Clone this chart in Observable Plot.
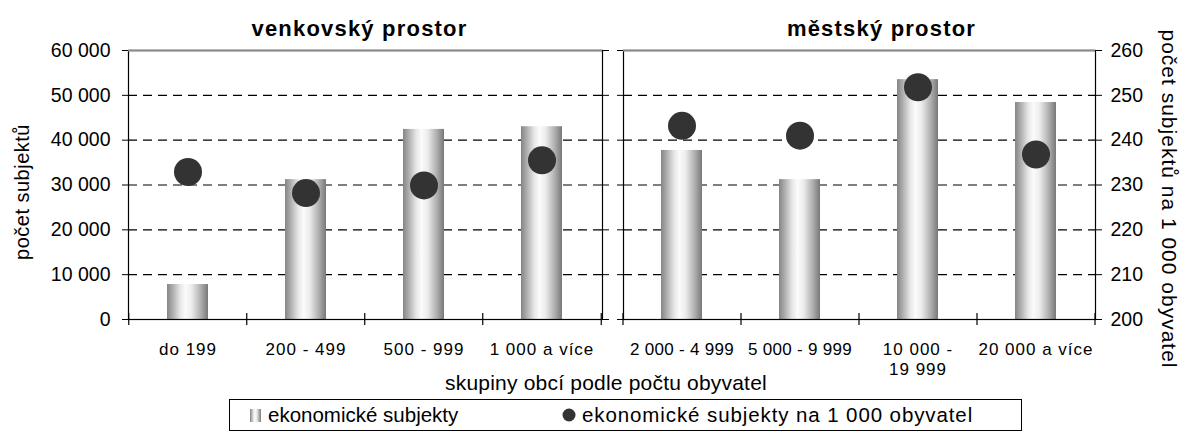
<!DOCTYPE html>
<html>
<head>
<meta charset="utf-8">
<script src="https://cdn.jsdelivr.net/npm/d3@7"></script>
<script src="https://cdn.jsdelivr.net/npm/@observablehq/plot@0.6"></script>
<style>
  body { margin: 0; background: #fff; font-family: "Liberation Sans", Arial, sans-serif; }
  #root { position: relative; width: 1181px; height: 432px; overflow: hidden; background: #fff; }
  #root > svg { position: absolute; top: 0; }
  #xtitle { position: absolute; left: 0; width: 1212px; top: 371px; text-align: center; font-size: 21px; letter-spacing: 0.2px; color: #000; white-space: nowrap; }
  #legend { position: absolute; left: 229px; top: 399px; width: 793px; height: 32px; border: 1px solid #000; box-sizing: border-box; font-size: 20.5px; color: #000; }
  .li { position: absolute; top: 3px; white-space: nowrap; display: flex; align-items: center; }
  .li svg { margin-right: 5px; }
</style>
</head>
<body>
<svg width="0" height="0" style="position:absolute">
  <defs>
    <linearGradient id="cyl" x1="0" x2="1" y1="0" y2="0">
      <stop offset="0" stop-color="#858585"/>
      <stop offset="0.12" stop-color="#a8a8a8"/>
      <stop offset="0.32" stop-color="#e6e6e6"/>
      <stop offset="0.45" stop-color="#fbfbfb"/>
      <stop offset="0.6" stop-color="#ececec"/>
      <stop offset="0.82" stop-color="#b0b0b0"/>
      <stop offset="1" stop-color="#787878"/>
    </linearGradient>
  </defs>
</svg>
<div id="root"></div>
<script>
// ---- data ----
const ruralTitle = "venkovský prostor";
const urbanTitle = "městský prostor";
const ruralCategories = ["do 199", "200 - 499", "500 - 999", "1 000 a více"];
const urbanCategories = ["2 000 - 4 999", "5 000 - 9 999", "10 000 -\n19 999", "20 000 a více"];
const ruralSubjects = [7800, 31200, 42400, 43000];
const urbanSubjects = [37700, 31200, 53500, 48400];
const ruralPer1000 = [232.9, 228.2, 229.9, 235.5];
const urbanPer1000 = [243.2, 241.0, 251.8, 236.8];
const leftTicks = [0, 10000, 20000, 30000, 40000, 50000, 60000];
const rightTicks = [200, 210, 220, 230, 240, 250, 260];
const gridValues = [10000, 20000, 30000, 40000, 50000];
const xTitle = "skupiny obcí podle počtu obyvatel";
const yTitleLeft = "počet subjektů";
const yTitleRight = "počet subjektů na 1 000 obyvatel";
const legendBars = "ekonomické subjekty";
const legendDots = "ekonomické subjekty na 1 000 obyvatel";

// ---- helpers ----
const rightMin = rightTicks[0], rightMax = rightTicks[rightTicks.length - 1];
const leftMax = leftTicks[leftTicks.length - 1];
const toLeft = v => (v - rightMin) / (rightMax - rightMin) * leftMax;   // map right-axis value onto left scale
const fmt = d3.formatLocale({decimal: ",", thousands: " ", grouping: [3], currency: ["", ""]}).format(",");

const rural = ruralCategories.map((c, i) => ({cat: c, subjects: ruralSubjects[i], rate: ruralPer1000[i]}));
const urban = urbanCategories.map((c, i) => ({cat: c, subjects: urbanSubjects[i], rate: urbanPer1000[i]}));

const H = 360, MT = 50, MB = 41;
const FONT = "'Liberation Sans', Arial, sans-serif";

function panel({data, cats, title, titleDx, width, ml, mr, left}) {
  const step = (width - ml - mr) / cats.length;
  const marks = [
    Plot.ruleY(gridValues, {stroke: "#000", strokeWidth: 1.1, strokeDasharray: "9,6"}),
    Plot.barY(data, {x: "cat", y: "subjects", fill: "url(#cyl)"}),
    Plot.frame({stroke: "#000", strokeWidth: 1.2}),
    Plot.ruleY([leftMax], {stroke: "#8a8a8a", strokeWidth: 2}),
    // category boundary ticks crossing the baseline
    Plot.ruleX(cats, {x: d => d, y1: 0, y2: 0, dx: -step / 2, insetTop: -6, insetBottom: -6, stroke: "#000", strokeWidth: 1.2}),
    Plot.ruleX(cats.slice(-1), {x: d => d, y1: 0, y2: 0, dx: step / 2, insetTop: -6, insetBottom: -6, stroke: "#000", strokeWidth: 1.2}),
    Plot.axisX({anchor: "bottom", tickSize: 0, tickPadding: 21, label: null, fontSize: 17, lineHeight: 1.2}),
    Plot.dot(data, {x: "cat", y: d => toLeft(d.rate), r: 14, fill: "#333333", stroke: "none"}),
    Plot.text([title], {frameAnchor: "top", textAnchor: "middle", dy: -30, dx: titleDx, fontWeight: "bold", fontSize: 22})
  ];
  if (left) {
    marks.push(
      Plot.axisY({anchor: "left", ticks: leftTicks, tickSize: 6, tickPadding: 12, tickFormat: fmt, fontSize: 19.5, label: null}),
      Plot.axisY({anchor: "right", ticks: leftTicks, tickSize: 6, tickFormat: () => "", label: null}),
      Plot.text([yTitleLeft], {frameAnchor: "left", textAnchor: "middle", rotate: -90, dx: -106, dy: 7, fontSize: 20})
    );
  } else {
    marks.push(
      Plot.axisY({anchor: "left", ticks: leftTicks, tickSize: 6, tickFormat: () => "", label: null}),
      Plot.axisY({anchor: "right", ticks: rightTicks.map(toLeft), tickSize: 6, tickPadding: 9,
                  tickFormat: (d, i) => String(rightTicks[i]), fontSize: 19.5, label: null}),
      Plot.text([yTitleRight], {frameAnchor: "right", textAnchor: "middle", rotate: 90, dx: 73, dy: 14, fontSize: 21})
    );
  }
  const svg = Plot.plot({
    width, height: H, marginTop: MT, marginBottom: MB, marginLeft: ml, marginRight: mr,
    style: {fontFamily: FONT, color: "#000", background: "transparent", overflow: "visible"},
    x: {domain: cats, paddingInner: 0.65, paddingOuter: 0.325, axis: null},
    y: {domain: [0, leftMax], axis: null},
    marks
  });
  // letter spacing tweaks to match the reference typography
  const spacing = {[title]: "1.2px", [yTitleRight]: "1px", [yTitleLeft]: "0.5px"};
  cats.forEach(c => {
    const s = (c.includes(" - ") && c.length > 10) ? "0.3px" : "1px";
    spacing[c] = s;
    spacing[c.replace("\n", "")] = s;
  });
  d3.select(svg).selectAll("text").each(function () {
    const s = spacing[this.textContent];
    if (s) this.style.letterSpacing = s;
  });
  return svg;
}

const root = document.getElementById("root");
const A = panel({data: rural, cats: ruralCategories, title: ruralTitle, titleDx: -6, width: 610, ml: 128, mr: 8, left: true});
A.style.left = "0px";
const B = panel({data: urban, cats: urbanCategories, title: urbanTitle, titleDx: 22, width: 566, ml: 8, mr: 86, left: false});
B.style.left = "615px";
root.appendChild(A);
root.appendChild(B);

const xt = document.createElement("div");
xt.id = "xtitle";
xt.textContent = xTitle;
root.appendChild(xt);

const lg = document.createElement("div");
lg.id = "legend";
lg.innerHTML =
  `<div class="li" style="left:19px"><svg width="14" height="14"><rect x="1" y="1" width="11" height="13" fill="url(#cyl)"/></svg><span></span></div>` +
  `<div class="li" style="left:331px"><svg width="16" height="16"><circle cx="8" cy="8" r="6.5" fill="#333"/></svg><span style="letter-spacing:0.9px"></span></div>`;
lg.querySelectorAll("span")[0].textContent = legendBars;
lg.querySelectorAll("span")[1].textContent = legendDots;
root.appendChild(lg);
</script>
</body>
</html>
